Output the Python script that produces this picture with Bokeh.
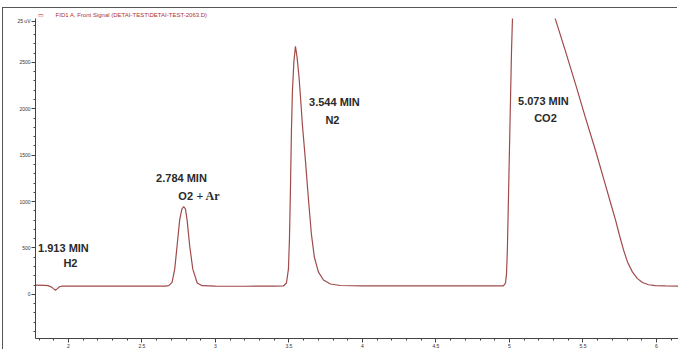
from bokeh.plotting import figure
from bokeh.models import Range1d, FixedTicker, Label, ColumnDataSource, LinearAxis
from bokeh.embed import file_html
from bokeh.resources import INLINE

# ---- data (time in min, signal) ----
time_min = [1.776, 1.84, 1.862, 1.884, 1.898, 1.912, 1.925, 1.939, 1.959, 2.2, 2.5,
            2.66, 2.682, 2.705, 2.723, 2.739, 2.757, 2.772, 2.784, 2.796, 2.807, 2.825,
            2.846, 2.876, 2.91, 3.0, 3.2, 3.4, 3.4626, 3.483, 3.4966, 3.5034, 3.5102,
            3.517, 3.5238, 3.534, 3.5442, 3.5544, 3.568, 3.578, 3.592, 3.612, 3.633,
            3.653, 3.673, 3.701, 3.735, 3.782, 3.85, 4.0, 4.3, 4.5, 4.7, 4.959, 4.973,
            4.98, 4.986, 4.993, 5.0, 5.007, 5.014, 5.024, 5.034, 5.048, 5.061, 5.073,
            5.095, 5.143, 5.211, 5.265, 5.313, 5.381, 5.449, 5.517, 5.585, 5.653,
            5.687, 5.721, 5.748, 5.776, 5.803, 5.837, 5.871, 5.905, 5.946, 5.993,
            6.061, 6.15]
signal = [100, 98, 94, 80, 62, 45, 62, 82, 90, 90, 89,
          90, 94, 130, 272, 521, 806, 920, 945, 920, 806, 521,
          272, 123, 94, 90, 88, 89, 91, 123, 272, 590, 1126,
          1766, 2193, 2513, 2673, 2567, 2353, 2140, 1820, 1446, 1019,
          646, 400, 240, 155, 112, 96, 92, 91, 92, 91, 92, 123,
          219, 486, 1019, 1553, 2086, 2620, 3154, 3794, 4000, 4220, 4270,
          4220, 3955, 3580, 3250, 2962, 2620, 2268, 1905, 1553, 1179,
          990, 806, 640, 480, 350, 240, 170, 128, 104, 94,
          91, 90]

peak_times = ["1.913", "2.784", "3.544", "5.073"]
peak_names = ["H2", "O2 + Ar", "N2", "CO2"]

x_ticks = [2, 2.5, 3, 3.5, 4, 4.5, 5, 5.5, 6]
x_tick_labels = ["2", "2.5", "3", "3.5", "4", "4.5", "5", "5.5", "6"]
y_ticks = [0, 500, 1000, 1500, 2000, 2500]
y_tick_labels = ["0", "500", "1000", "1500", "2000", "2500"]

title_text = "FID1 A, Front Signal (DETAI-TEST\\DETAI-TEST-2063.D)"
unit_text = "25 uV"

# ---- figure ----
p = figure(width=675, height=342, output_backend="svg", toolbar_location=None,
           x_range=Range1d(1.776, 6.15), y_range=Range1d(-475, 2972),
           min_border_left=32, min_border_right=0, min_border_top=9, min_border_bottom=10)
p.outline_line_color = None
p.grid.visible = False
p.background_fill_color = "white"
p.border_fill_color = "white"

src = ColumnDataSource(dict(t=time_min, s=signal))
p.line("t", "s", source=src, line_color="#a04a4a", line_width=1.2)

minor_x = [round(1.8 + 0.1 * i, 2) for i in range(44)]
minor_y = [-400 + 100 * i for i in range(34)]

for ax in (p.xaxis[0], p.yaxis[0]):
    ax.axis_line_color = "#444444"
    ax.axis_line_width = 1
    ax.major_tick_line_color = "#444444"
    ax.minor_tick_line_color = "#444444"
    ax.major_tick_out = 4
    ax.major_tick_in = 0
    ax.minor_tick_out = 2
    ax.minor_tick_in = 0
    ax.major_label_text_font_size = "5px"
    ax.major_label_text_color = "#333333"
    ax.major_label_text_font = "Liberation Sans"
    ax.major_label_standoff = 1

unit_value = 2940
p.xaxis.ticker = FixedTicker(ticks=x_ticks, minor_ticks=minor_x)
p.xaxis.major_label_overrides = {t: l for t, l in zip(x_ticks, x_tick_labels)}
p.yaxis.ticker = FixedTicker(ticks=y_ticks + [unit_value], minor_ticks=minor_y)
ov = {t: l for t, l in zip(y_ticks, y_tick_labels)}
ov[unit_value] = unit_text
p.yaxis.major_label_overrides = ov

# header (legend box + signal title) as an axis above the frame
box_pos, title_pos = 1.816, 2.429
top = LinearAxis(ticker=FixedTicker(ticks=[box_pos, title_pos], minor_ticks=[]),
                 major_label_overrides={box_pos: "\u25ad", title_pos: title_text},
                 axis_line_color=None, major_tick_line_color=None, minor_tick_line_color=None,
                 major_tick_out=0, major_tick_in=0, minor_tick_out=0, minor_tick_in=0,
                 major_label_text_font_size="6px", major_label_text_color="#b03030",
                 major_label_text_font="Liberation Sans", major_label_standoff=1)
p.add_layout(top, "above")

# ---- peak annotations ----
lab_style = dict(text_font="Liberation Sans", text_font_size="11px", text_color="#2a2a2a",
                 text_font_style="bold", text_align="center", text_baseline="middle")
pos_time = [(1.966, 496), (2.769, 1254), (3.8095, 2076), (5.231, 2086)]
pos_name = [(2.0136, 336), None, (3.796, 1884), (5.245, 1905)]
for i in range(4):
    x, y = pos_time[i]
    p.add_layout(Label(x=x, y=y, text=peak_times[i] + " MIN", **lab_style))
    if pos_name[i] is not None:
        x, y = pos_name[i]
        p.add_layout(Label(x=x, y=y, text=peak_names[i], **lab_style))
o2, ar = peak_names[1].split(" ", 1)
p.add_layout(Label(x=2.7476, y=1062, text=o2, text_font="Liberation Sans", text_font_size="11px",
                   text_font_style="bold", text_color="#2a2a2a", text_align="left",
                   text_baseline="middle"))
p.add_layout(Label(x=2.8707, y=1062, text=ar, text_font="Liberation Serif", text_font_size="12px",
                   text_font_style="bold", text_color="#2a2a2a", text_align="left",
                   text_baseline="middle"))

p.styles = {"margin-top": "8px", "margin-left": "3px",
            "box-shadow": "-1px -1px 0px 0px #555555"}

open("out.html", "w").write(file_html(p, INLINE))
